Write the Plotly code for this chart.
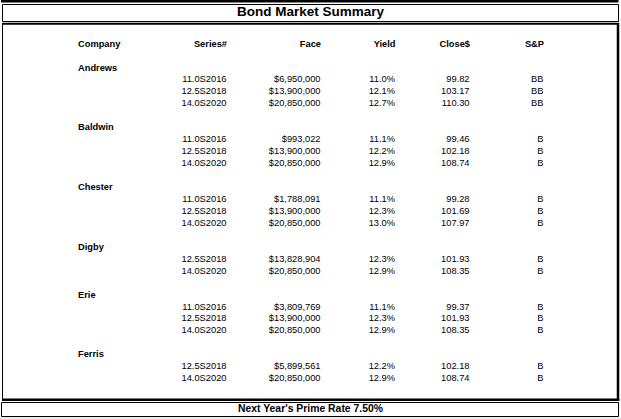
import plotly.graph_objects as go

# ---------------- data ----------------
title_text = "Bond Market Summary"
footer_text = "Next Year's Prime Rate 7.50%"
columns = ["Company", "Series#", "Face", "Yield", "Close$", "S&P"]

companies = ["Andrews", "Baldwin", "Chester", "Digby", "Erie", "Ferris"]
series = [
    ["11.0S2016", "12.5S2018", "14.0S2020"],
    ["11.0S2016", "12.5S2018", "14.0S2020"],
    ["11.0S2016", "12.5S2018", "14.0S2020"],
    ["12.5S2018", "14.0S2020"],
    ["11.0S2016", "12.5S2018", "14.0S2020"],
    ["12.5S2018", "14.0S2020"],
]
face = [
    [6950000, 13900000, 20850000],
    [993022, 13900000, 20850000],
    [1788091, 13900000, 20850000],
    [13828904, 20850000],
    [3809769, 13900000, 20850000],
    [5899561, 20850000],
]
yields = [
    [11.0, 12.1, 12.7],
    [11.1, 12.2, 12.9],
    [11.1, 12.3, 13.0],
    [12.3, 12.9],
    [11.1, 12.3, 12.9],
    [12.2, 12.9],
]
close = [
    [99.82, 103.17, 110.30],
    [99.46, 102.18, 108.74],
    [99.28, 101.69, 107.97],
    [101.93, 108.35],
    [99.37, 101.93, 108.35],
    [102.18, 108.74],
]
sp_rating = [
    ["BB", "BB", "BB"],
    ["B", "B", "B"],
    ["B", "B", "B"],
    ["B", "B"],
    ["B", "B", "B"],
    ["B", "B"],
]

# ---------------- layout helpers ----------------
W, H = 621, 419
FONT = "Liberation Sans, Arial, sans-serif"
BLACK = "#000000"
FS = 9.3

# column anchors (pixels): company is left-aligned, others right-aligned
col_x = {"Company": 78, "Series#": 226.5, "Face": 320.5, "Yield": 395, "Close$": 469.5, "S&P": 543.5}
Y0, STEP, HEADER_Y = 68.2, 11.95, 44.3


def row_y(k):
    return Y0 + STEP * k


comp_x, comp_y = [], []
data_y = []
data_txt = {c: [] for c in columns[1:]}
k = 0
for i, name in enumerate(companies):
    comp_x.append(col_x["Company"])
    comp_y.append(row_y(k))
    k += 1
    for j in range(len(series[i])):
        data_y.append(row_y(k))
        data_txt["Series#"].append(series[i][j])
        data_txt["Face"].append("${:,}".format(face[i][j]))
        data_txt["Yield"].append("{:.1f}%".format(yields[i][j]))
        data_txt["Close$"].append("{:.2f}".format(close[i][j]))
        data_txt["S&P"].append(sp_rating[i][j])
        k += 1
    k += 1

fig = go.Figure()

# header row
fig.add_trace(go.Scatter(
    x=[col_x["Company"]], y=[HEADER_Y], text=[columns[0]], mode="text",
    textposition="middle right",
    textfont=dict(family=FONT, size=FS, color=BLACK, weight="bold"),
    hoverinfo="skip"))
fig.add_trace(go.Scatter(
    x=[col_x[c] + 0.5 for c in columns[1:]], y=[HEADER_Y] * 5, text=columns[1:], mode="text",
    textposition="middle left",
    textfont=dict(family=FONT, size=FS, color=BLACK, weight="bold"),
    hoverinfo="skip"))

# company names
fig.add_trace(go.Scatter(
    x=comp_x, y=comp_y, text=companies, mode="text", textposition="middle right",
    textfont=dict(family=FONT, size=FS, color=BLACK, weight="bold"),
    hoverinfo="skip"))

# data columns
for c in columns[1:]:
    fig.add_trace(go.Scatter(
        x=[col_x[c]] * len(data_y), y=data_y, text=data_txt[c], mode="text",
        textposition="middle left",
        textfont=dict(family=FONT, size=FS, color=BLACK),
        hoverinfo="skip"))

# title & footer
fig.add_trace(go.Scatter(
    x=[310.5], y=[12.6], text=[title_text], mode="text", textposition="middle center",
    textfont=dict(family=FONT, size=13.5, color=BLACK, weight="bold"), hoverinfo="skip"))
fig.add_trace(go.Scatter(
    x=[310.5], y=[409.2], text=[footer_text], mode="text", textposition="middle center",
    textfont=dict(family=FONT, size=10.4, color=BLACK, weight="bold"), hoverinfo="skip"))

# frame
shapes = [
    # very top rule
    dict(type="line", x0=1, x1=618.5, y0=1.2, y1=1.2, line=dict(color=BLACK, width=2.5)),
    # title box
    dict(type="rect", x0=2.5, x1=618.5, y0=4.5, y1=21.5, line=dict(color=BLACK, width=1)),
    # main box
    dict(type="line", x0=2.5, x1=619, y0=23.8, y1=23.8, line=dict(color=BLACK, width=2)),
    dict(type="line", x0=2.5, x1=2.5, y0=23, y1=401, line=dict(color=BLACK, width=1)),
    dict(type="line", x0=618, x1=618, y0=23, y1=401, line=dict(color=BLACK, width=2.5)),
    dict(type="line", x0=2, x1=619.3, y0=399.8, y1=399.8, line=dict(color=BLACK, width=2.5)),
    # footer box
    dict(type="rect", x0=1.5, x1=618.5, y0=402.5, y1=416.5, line=dict(color=BLACK, width=1)),
    dict(type="rect", x0=0, x1=621, y0=417, y1=419, fillcolor="#ececec", line=dict(width=0)),
]

fig.update_layout(
    width=W, height=H,
    margin=dict(l=0, r=0, t=0, b=0, pad=0),
    paper_bgcolor="white", plot_bgcolor="white",
    showlegend=False,
    shapes=shapes,
    xaxis=dict(range=[0, W], visible=False, fixedrange=True),
    yaxis=dict(range=[H, 0], visible=False, fixedrange=True),
)

fig.write_html(
    "out.html",
    config={"displayModeBar": False, "staticPlot": True},
    post_script="document.body.style.margin='0';document.body.style.overflow='hidden';",
)
